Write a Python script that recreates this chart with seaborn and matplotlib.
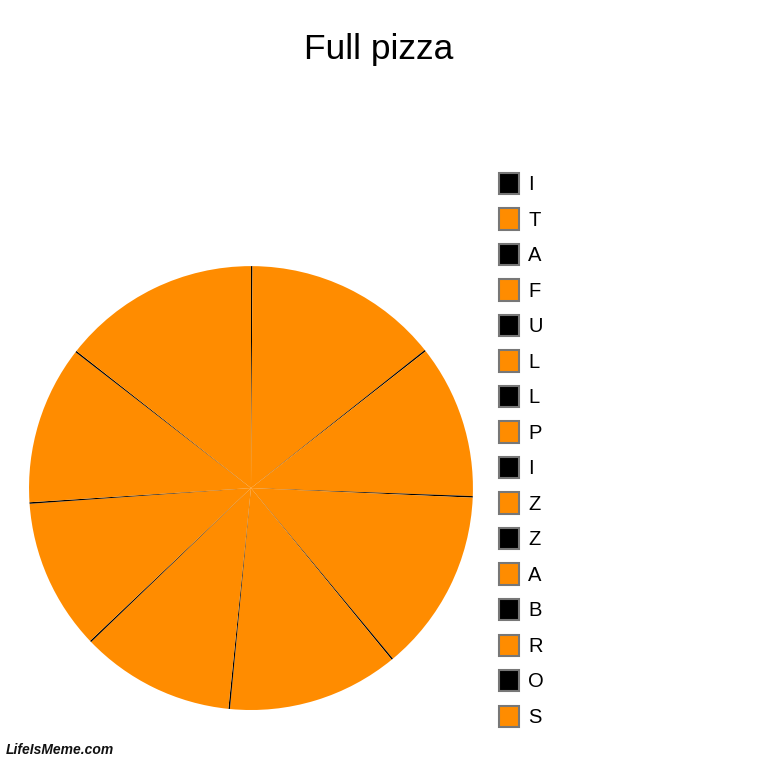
import seaborn as sns
import matplotlib.pyplot as plt
from matplotlib.patches import Patch

sns.set_theme(style="white")
plt.rcParams['font.family'] = ['Liberation Sans', 'DejaVu Sans']

# Datos
labels = ["I", "T", "A", "F", "U", "L", "L", "P", "I", "Z", "Z", "A", "B", "R", "O", "S"]
values = [0.4, 51.6, 0.4, 40.5, 0.4, 48.2, 0.4, 45.2, 0.4, 40.6, 0.4, 39.8, 0.4, 41.8, 0.4, 52.3]
colors = ["#000000", "#ff8c00"] * 8

fig = plt.figure(figsize=(7.68, 7.68), dpi=100)
ax = fig.add_axes([0.0378, 0.0755, 0.578, 0.578])
ax.pie(values, colors=colors, startangle=90, counterclock=False,
       wedgeprops={"linewidth": 0})
ax.set_xlim(-1, 1)
ax.set_ylim(-1, 1)
ax.set_aspect("equal")

handles = [Patch(facecolor=c, edgecolor="#777777", linewidth=1.5) for c in colors]
leg = fig.legend(handles, labels, loc="upper left", bbox_to_anchor=(0.65, 0.775),
                 frameon=False, fontsize=14.5, handlelength=1.0, handleheight=1.25,
                 handletextpad=0.45, labelspacing=0.70, borderpad=0, borderaxespad=0)
for t in leg.get_texts():
    t.set_color("black")

fig.suptitle("Full pizza", fontsize=25.5, y=0.957, x=0.493, color="black")
fig.text(0.008, 0.018, "LifeIsMeme.com", fontsize=10, fontweight="bold",
         fontstyle="italic", color="#111111")

plt.savefig("out.png", dpi=100)
